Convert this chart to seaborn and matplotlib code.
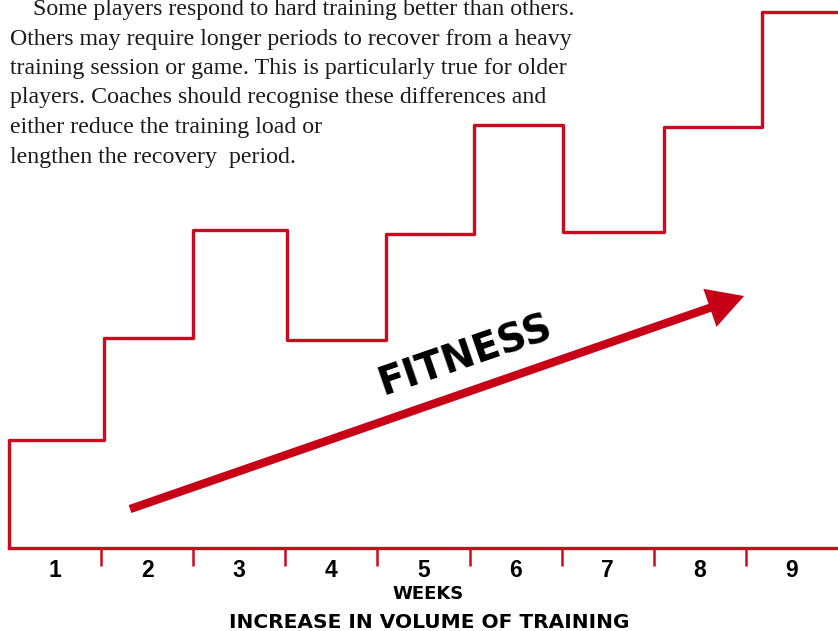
import matplotlib
matplotlib.use("Agg")
import matplotlib.pyplot as plt
from matplotlib.patches import FancyArrowPatch
import pandas as pd
import seaborn as sns

# step edges (in weeks) and training load level for each week
weeks = [1, 2, 3, 4, 5, 6, 7, 8, 9]
step_edges = [0, 1.03, 2.0, 3.02, 4.09, 5.05, 6.01, 7.11, 8.17, 9.0]
load_levels = [1.01, 1.96, 2.97, 1.94, 2.93, 3.95, 2.95, 3.93, 5.01]
week_labels = [str(w) for w in weeks]

intro_lines = [
    "Some players respond to hard training better than others.",
    "Others may require longer periods to recover from a heavy",
    "training session or game. This is particularly true for older",
    "players. Coaches should recognise these differences and",
    "either reduce the training load or",
    "lengthen the recovery  period.",
]

RED = "#cc0a1f"
ARROW_RED = "#c70017"

sns.set_theme(style="white")
plt.rcParams["font.family"] = ["Liberation Sans", "DejaVu Sans"]
plt.rcParams["text.color"] = "black"

df = pd.DataFrame({
    "x": [0] + step_edges[:-1] + [step_edges[-1]],
    "y": [0] + load_levels + [load_levels[-1]],
})

fig = plt.figure(figsize=(8.38, 6.31), dpi=100)
ax = fig.add_axes([9 / 838, 83 / 631, 829 / 838, 548 / 631])

sns.lineplot(data=df, x="x", y="y", ax=ax, estimator=None, sort=False,
             drawstyle="steps-post", color=RED, lw=2.4, clip_on=False)

ax.set_xlim(0, 9)
ax.set_ylim(0, 548 / 107)

for side in ["left", "top", "right"]:
    ax.spines[side].set_visible(False)
ax.spines["bottom"].set_color(RED)
ax.spines["bottom"].set_linewidth(2.4)

ax.set_yticks([])
ax.set_xticks([w - 0.5 for w in weeks])
ax.set_xticklabels(week_labels, fontsize=16.5, fontweight="bold")
ax.set_xticks(range(1, 9), minor=True)
ax.tick_params(axis="x", which="major", length=0, pad=8, colors="black")
ax.tick_params(axis="x", which="minor", bottom=True, length=13, width=1.8,
               color=RED, direction="out")
ax.set_xlabel("")
ax.set_ylabel("")

# rising fitness arrow
arrow = FancyArrowPatch((1.314, 0.364), (7.98, 2.355),
                        arrowstyle="simple,tail_width=0.6,head_width=2.9,head_length=2.6",
                        mutation_scale=10, color=ARROW_RED, lw=0,
                        shrinkA=0, shrinkB=0, transform=ax.transData)
ax.add_patch(arrow)
ax.text(4.95, 1.80, "FITNESS", rotation=19, rotation_mode="anchor",
        ha="center", va="center", fontsize=28, fontweight="bold",
        family="DejaVu Sans", color="black")

# axis titles
fig.text(428 / 838, 1 - 594 / 631, "WEEKS", ha="center", va="center",
         fontsize=13, fontweight="bold", family="DejaVu Sans", color="black")
fig.text(429 / 838, 1 - 622 / 631, "INCREASE IN VOLUME OF TRAINING",
         ha="center", va="center", fontsize=14.5, fontweight="bold",
         family="DejaVu Sans", color="black")

# intro paragraph
for i, line in enumerate(intro_lines):
    x0 = 33 if i == 0 else 10
    y0 = 15 + i * 29.5
    fig.text(x0 / 838, 1 - y0 / 631, line, ha="left", va="baseline",
             fontsize=17.2, family="Liberation Serif", color="#1a1a1a")

fig.savefig("out.png", dpi=100)
